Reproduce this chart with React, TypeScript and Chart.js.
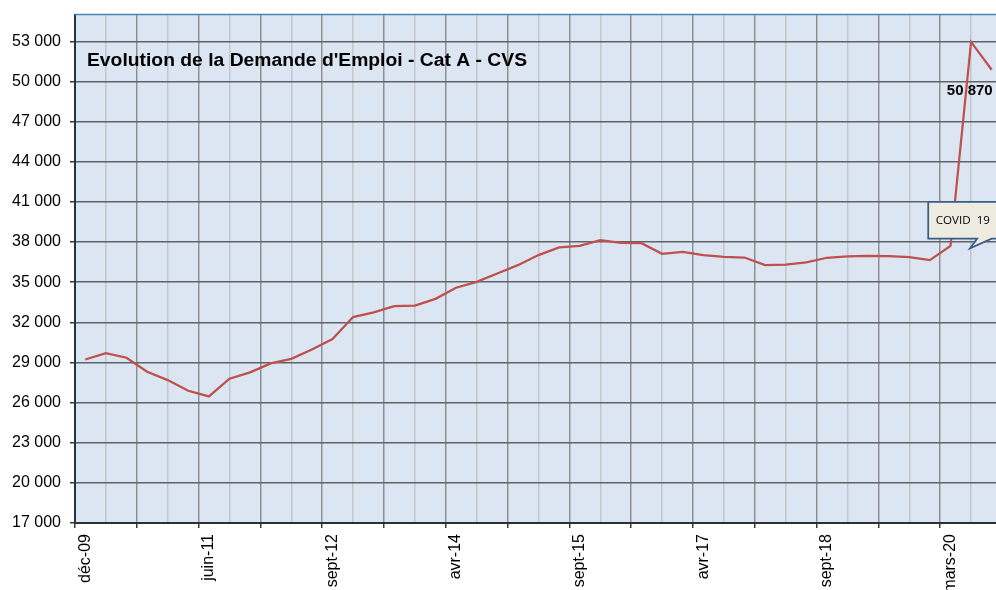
import React, { useEffect, useRef } from 'react';
import { Chart, registerables } from 'chart.js';

Chart.register(...registerables);

// Demandeurs d'emploi Cat A - CVS (one value per period)
const values: number[] = [
  29220, 29700, 29350, 28300, 27680, 26880, 26460, 27780, 28260, 28930,
  29270, 29970, 30750, 32390, 32740, 33210, 33250, 33750, 34580, 35020,
  35650, 36270, 37020, 37590, 37710, 38140, 37940, 37910, 37120, 37260,
  37020, 36890, 36840, 36270, 36300, 36470, 36820, 36920, 36970, 36940,
  36870, 36640, 37710, 52950, 50870,
];

// Visible x tick labels and the period index they belong to
const tickLabels: string[] = ['déc-09', 'juin-11', 'sept-12', 'avr-14', 'sept-15', 'avr-17', 'sept-18', 'mars-20'];
const tickLabelIndex: number[] = [0, 6, 12, 18, 24, 30, 36, 42];

// Y axis
const yTicks: number[] = [17000, 20000, 23000, 26000, 29000, 32000, 35000, 38000, 41000, 44000, 47000, 50000, 53000];
const yMin = 17000;
const yMax = 55000;

// X range (category centres at integers)
const xMin = -0.5;
const xMax = 44.21;

const titleText = "Evolution de la Demande d'Emploi - Cat A - CVS";
const calloutText = 'COVID  19';

const fmt = (v: number) => String(Math.round(v)).replace(/\B(?=(\d{3})+(?!\d))/g, ' ');

const decorPlugin = {
  id: 'decor',
  beforeDraw(chart: any) {
    const { ctx, chartArea: a } = chart;
    ctx.save();
    ctx.fillStyle = '#DCE6F2';
    ctx.fillRect(a.left, a.top, a.right - a.left, a.bottom - a.top);
    ctx.restore();
  },
  beforeDatasetsDraw(chart: any) {
    const { ctx, chartArea: a } = chart;
    ctx.save();
    ctx.strokeStyle = '#4F81BD';
    ctx.lineWidth = 1.5;
    ctx.beginPath();
    ctx.moveTo(a.left, a.top);
    ctx.lineTo(a.right, a.top);
    ctx.stroke();
    ctx.restore();
  },
  afterDatasetsDraw(chart: any) {
    const { ctx, chartArea: a, scales } = chart;
    const xs = scales.x;
    const ys = scales.y;
    ctx.save();
    // title (slightly wide, as in the original text box)
    ctx.fillStyle = '#000';
    ctx.font = 'bold 17.5px "Liberation Sans", Arial, sans-serif';
    ctx.textAlign = 'left';
    ctx.textBaseline = 'alphabetic';
    const w = ctx.measureText(titleText).width;
    const sx = w > 0 ? 440 / w : 1;
    ctx.save();
    ctx.translate(a.left + 12, a.top + 51.5);
    ctx.scale(sx, 1);
    ctx.fillText(titleText, 0, 0);
    ctx.restore();

    // last value label
    const meta = chart.getDatasetMeta(0);
    const last = meta.data[meta.data.length - 1];
    ctx.font = 'bold 15px "Liberation Sans", Arial, sans-serif';
    ctx.textAlign = 'right';
    ctx.fillText(fmt(values[values.length - 1]), last.x + 1, last.y + 25.7);

    // callout
    const L = xs.getPixelForValue(40.92);
    const T = ys.getPixelForValue(41000);
    const B = ys.getPixelForValue(38250);
    const R = a.right + 30;
    const b1 = xs.getPixelForValue(43.3);
    const b2 = xs.getPixelForValue(44.0);
    const tx = xs.getPixelForValue(42.95);
    const ty = ys.getPixelForValue(37530);
    ctx.beginPath();
    ctx.moveTo(L, T);
    ctx.lineTo(R, T);
    ctx.lineTo(R, B);
    ctx.lineTo(b2, B);
    ctx.lineTo(tx, ty);
    ctx.lineTo(b1, B);
    ctx.lineTo(L, B);
    ctx.closePath();
    ctx.fillStyle = '#EEECE1';
    ctx.fill();
    ctx.strokeStyle = '#385D8A';
    ctx.lineWidth = 1.75;
    ctx.lineJoin = 'miter';
    ctx.stroke();
    ctx.fillStyle = '#000';
    ctx.font = '11.6px "Open Sans", "Noto Sans", sans-serif';
    ctx.textAlign = 'left';
    ctx.fillText(calloutText, L + 7.5, (T + B) / 2 + 4.2);
    ctx.restore();
  },
};

export default function App() {
  const ref = useRef<HTMLCanvasElement | null>(null);

  useEffect(() => {
    const canvas = ref.current;
    if (!canvas) return;
    const chart = new Chart(canvas, {
      type: 'line',
      data: {
        datasets: [
          {
            data: values.map((v, i) => ({ x: i, y: v })),
            borderColor: '#C0504D',
            borderWidth: 2.25,
            pointRadius: 0,
            tension: 0,
            fill: false,
          },
        ],
      },
      options: {
        responsive: false,
        maintainAspectRatio: false,
        animation: false,
        events: [],
        layout: { padding: { top: 14.5, left: 0, right: 0, bottom: 0 } },
        plugins: { legend: { display: false }, tooltip: { enabled: false }, title: { display: false } },
        scales: {
          x: {
            type: 'linear',
            min: xMin,
            max: xMax,
            bounds: 'data',
            afterBuildTicks: (scale: any) => {
              const t: any[] = [];
              for (let k = 0; xMin + 1.5 * k <= xMax + 1e-9; k++) {
                t.push({ value: xMin + 1.5 * k, kind: k % 2 === 0 ? 'major' : 'minor' });
              }
              tickLabelIndex.forEach((idx, j) => t.push({ value: idx, kind: 'label', text: tickLabels[j] }));
              t.sort((p, q) => p.value - q.value);
              scale.ticks = t;
            },
            afterFit: (scale: any) => {
              scale.height = 67;
              scale.paddingLeft = 0;
              scale.paddingRight = 0;
            },
            grid: {
              display: true,
              drawTicks: true,
              tickLength: 5,
              color: (c: any) =>
                c.tick && c.tick.kind === 'major' ? '#8d8f93' : c.tick && c.tick.kind === 'minor' ? '#c3c6cb' : 'rgba(0,0,0,0)',
              lineWidth: 1.5,
              tickColor: (c: any) => (c.tick && c.tick.kind === 'major' ? '#3a3a3a' : 'rgba(0,0,0,0)'),
              tickWidth: 1.5,
            },
            border: { display: true, color: '#2b2f36', width: 2 },
            ticks: {
              autoSkip: false,
              minRotation: 90,
              maxRotation: 90,
              padding: 6,
              color: '#000',
              font: { family: '"Liberation Sans", Arial, sans-serif', size: 16 },
              callback: (_v: any, i: number, ticks: any[]) => (ticks[i] && ticks[i].kind === 'label' ? ticks[i].text : ''),
            },
          },
          y: {
            type: 'linear',
            min: yMin,
            max: yMax,
            bounds: 'data',
            afterBuildTicks: (scale: any) => {
              scale.ticks = yTicks.map((v) => ({ value: v }));
            },
            afterFit: (scale: any) => {
              scale.width = 75;
              scale.paddingTop = 0;
              scale.paddingBottom = 0;
            },
            grid: {
              display: true,
              drawTicks: true,
              tickLength: 5,
              color: '#5f636a',
              lineWidth: 1.5,
              tickColor: '#3a3a3a',
              tickWidth: 1.5,
            },
            border: { display: true, color: '#243447', width: 2 },
            ticks: {
              autoSkip: false,
              padding: 9,
              color: '#000',
              font: { family: '"Liberation Sans", Arial, sans-serif', size: 16 },
              callback: (v: any) => fmt(Number(v)),
            },
          },
        },
      },
      plugins: [decorPlugin],
    } as any);
    return () => chart.destroy();
  }, []);

  return (
    <div style={{ position: 'absolute', left: 0, top: 0, width: 996, height: 590, background: '#fff', overflow: 'hidden' }}>
      <canvas ref={ref} width={996} height={590} style={{ display: 'block', width: 996, height: 590 }} />
    </div>
  );
}
